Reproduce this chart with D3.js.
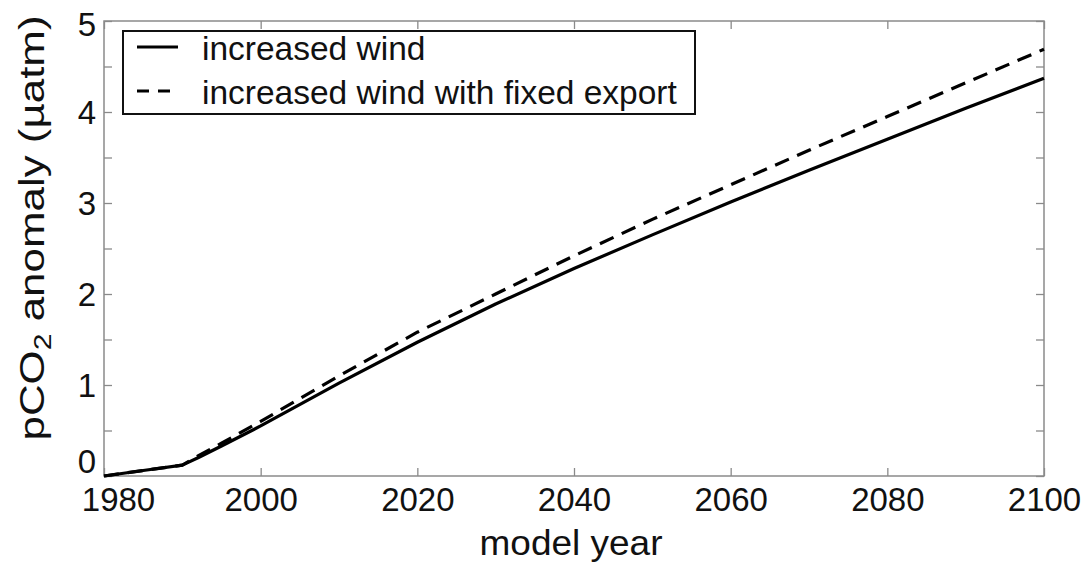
<!DOCTYPE html>
<html>
<head>
<meta charset="utf-8">
<script src="https://cdn.jsdelivr.net/npm/d3@7"></script>
<style>
  html, body { margin: 0; padding: 0; background: #fff; }
  svg text { font-family: "Liberation Sans", Arial, Helvetica, sans-serif; fill: #111; }
</style>
</head>
<body>
<svg id="chart" width="1085" height="566"></svg>
<script>
// ---- data ----
const years = [1980, 1985, 1990, 1992, 1995, 2000, 2010, 2020, 2030, 2040, 2050, 2060, 2070, 2080, 2090, 2100];
const increasedWind = [0, 0.06, 0.12, 0.2, 0.33, 0.55, 1.02, 1.47, 1.89, 2.28, 2.65, 3.01, 3.36, 3.7, 4.04, 4.37];
const fixedExport   = [0, 0.06, 0.12, 0.22, 0.36, 0.6, 1.1, 1.58, 2.0, 2.42, 2.82, 3.2, 3.58, 3.95, 4.32, 4.69];
const seriesNames = ["increased wind", "increased wind with fixed export"];
const xTicks = [1980, 2000, 2020, 2040, 2060, 2080, 2100];
const yTicks = [0, 1, 2, 3, 4, 5];
const yMinorTicks = [0.5, 1.5, 2.5, 3.5, 4.5];
const xTitle = "model year";

// ---- layout ----
const m = { left: 104, top: 21, right: 1044, bottom: 476 };
const svg = d3.select("#chart");

const x = d3.scaleLinear().domain([1980, 2100]).range([m.left, m.right]);
const y = d3.scaleLinear().domain([0, 5]).range([m.bottom, m.top]);

const axisColor = "#8a8a8a";
const tickLen = 8;

function styleAxis(g) {
  g.select(".domain").remove();
  g.selectAll(".tick line").attr("stroke", axisColor).attr("stroke-width", 1.3);
}

// bottom axis
const gB = svg.append("g").attr("transform", `translate(0,${m.bottom})`)
  .call(d3.axisBottom(x).tickValues(xTicks).tickSize(-tickLen).tickPadding(12).tickFormat(d3.format("d")));
styleAxis(gB);
gB.selectAll(".tick text").attr("font-size", 33).attr("fill", "#111")
  .attr("dx", d => d === 1980 ? 14 : 0).attr("dy", "0.7em");

// top axis
const gT = svg.append("g").attr("transform", `translate(0,${m.top})`)
  .call(d3.axisTop(x).tickValues(xTicks).tickSize(-tickLen).tickFormat(""));
styleAxis(gT);

// left axis
const gL = svg.append("g").attr("transform", `translate(${m.left},0)`)
  .call(d3.axisLeft(y).tickValues(yTicks).tickSize(-tickLen).tickPadding(8).tickFormat(d3.format("d")));
styleAxis(gL);
gL.selectAll(".tick text").attr("font-size", 33).attr("fill", "#111")
  .attr("dy", d => d === 0 ? "-0.12em" : (d === 5 ? "0.45em" : "0.35em"));
const gLm = svg.append("g").attr("transform", `translate(${m.left},0)`)
  .call(d3.axisLeft(y).tickValues(yMinorTicks).tickSize(-tickLen).tickFormat(""));
styleAxis(gLm);

// right axis
const gR = svg.append("g").attr("transform", `translate(${m.right},0)`)
  .call(d3.axisRight(y).tickValues(yTicks.concat(yMinorTicks)).tickSize(-tickLen).tickFormat(""));
styleAxis(gR);

// frame
svg.append("rect")
  .attr("x", m.left).attr("y", m.top)
  .attr("width", m.right - m.left).attr("height", m.bottom - m.top)
  .attr("fill", "none").attr("stroke", axisColor).attr("stroke-width", 1.5);

// lines
const line = d3.line().x(d => x(d[0])).y(d => y(d[1]));
const series = [
  { name: seriesNames[0], values: increasedWind, dash: null },
  { name: seriesNames[1], values: fixedExport, dash: "15,9" }
];
series.forEach(s => {
  svg.append("path")
    .datum(years.map((yr, i) => [yr, s.values[i]]))
    .attr("d", line)
    .attr("fill", "none")
    .attr("stroke", "#000")
    .attr("stroke-width", 3.2)
    .attr("stroke-linejoin", "round")
    .attr("stroke-dasharray", s.dash);
});

// legend
const lg = svg.append("g");
lg.append("rect").attr("x", 123).attr("y", 31).attr("width", 572).attr("height", 83)
  .attr("fill", "#fff").attr("stroke", "#111").attr("stroke-width", 2);
series.forEach((s, i) => {
  const cy = 47 + i * 44;
  lg.append("line").attr("x1", 137).attr("x2", 178).attr("y1", cy).attr("y2", cy)
    .attr("stroke", "#000").attr("stroke-width", 3.2).attr("stroke-dasharray", s.dash ? "12,9" : null);
  lg.append("text").attr("x", 202).attr("y", cy + 13).attr("font-size", 33.5).text(s.name);
});

// axis titles
svg.append("text")
  .attr("x", (m.left + m.right) / 2 - 3).attr("y", 555)
  .attr("text-anchor", "middle").attr("font-size", 35)
  .attr("textLength", 183).attr("lengthAdjust", "spacingAndGlyphs")
  .text(xTitle);

const yt = svg.append("text")
  .attr("transform", `translate(44,${228}) rotate(-90)`)
  .attr("text-anchor", "middle").attr("font-size", 35)
  .attr("textLength", 425).attr("lengthAdjust", "spacingAndGlyphs");
yt.append("tspan").text("pCO");
yt.append("tspan").attr("font-size", 24).attr("dy", 7).text("2");
yt.append("tspan").attr("dy", -7).text(" anomaly (\u00b5atm)");
</script>
</body>
</html>
